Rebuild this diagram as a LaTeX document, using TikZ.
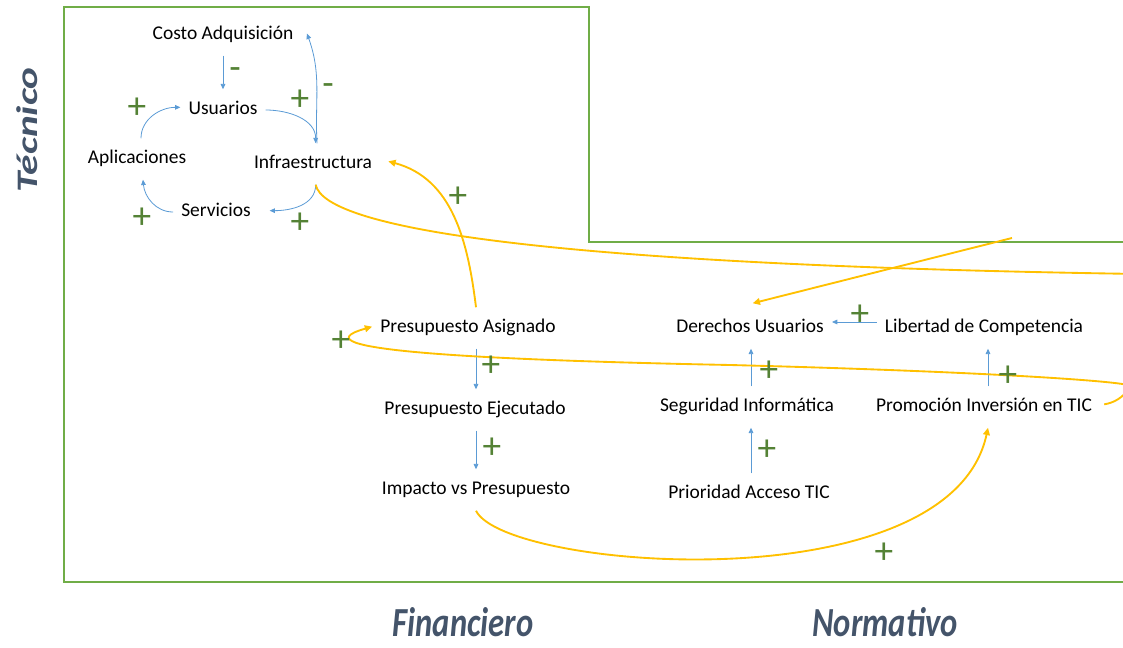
\documentclass[tikz,border=0pt]{standalone}
\usepackage{fontspec}
\setmainfont{Carlito}
\usetikzlibrary{positioning,arrows.meta}
\definecolor{linkblue}{HTML}{5B9BD5}
\definecolor{flowyellow}{HTML}{FFC000}
\definecolor{framegreen}{HTML}{70AD47}
\definecolor{signgreen}{HTML}{548235}
\definecolor{axisgray}{HTML}{44546A}
\tikzset {
    style var/.style={
        font=\fontsize{14.6}{17}\selectfont,
        text=black,
        inner xsep=6pt,
        inner ysep=8.6pt,
        text height=10pt,
        text depth=3.5pt,
        align=center,
    },
    style sign/.style={
        font=\fontsize{28}{28}\selectfont,
        text=signgreen,
        inner sep=0pt,
    },
    style axis/.style={
        font=\fontsize{31}{31}\selectfont\bfseries\itshape,
        text=axisgray,
        inner sep=0pt,
    },
    style link/.style={
        draw=linkblue,
        line width=0.6pt,
        -{Triangle[length=4pt,width=3.5pt]},
    },
    style flow/.style={
        draw=flowyellow,
        line width=1.4pt,
        -{Triangle[length=5.5pt,width=5pt]},
    },
    style frame/.style={
        draw=framegreen,
        line width=1.5pt,
    },
}

\begin{document}
\begin{tikzpicture}[x=0.75pt, y=0.75pt]
\useasboundingbox (0,0) rectangle (1123,-648);
\clip (0,0) rectangle (1123,-648);

% regions
\draw[style frame] (64,-7) -- (589,-7) -- (589,-242) -- (1140,-242) -- (1140,-582) -- (64,-582) -- cycle;
\node[style axis, rotate=90] (tecnico) at (27,-130) {\scalebox{1}[0.72]{Técnico}};
\node[style axis] (financiero) at (463,-622) {\scalebox{0.79}[1]{Financiero}};
\node[style axis] (normativo) at (885,-622) {\scalebox{0.79}[1]{Normativo}};

% variables
\node[style var] (costo) at (223,-35) {Costo Adquisición};
\node[style var] (usuarios) at (223,-110) {Usuarios};
\node[style var] (aplicaciones) at (137,-159) {Aplicaciones};
\node[style var] (infra) at (313,-164) {Infraestructura};
\node[style var] (servicios) at (216,-212) {Servicios};
\node[style var] (pasig) at (468,-328) {Presupuesto Asignado};
\node[style var] (pejec) at (475,-410) {Presupuesto Ejecutado};
\node[style var] (impacto) at (476,-490) {Impacto vs Presupuesto};
\node[style var] (derechos) at (750,-328) {Derechos Usuarios};
\node[style var] (libertad) at (984,-328) {Libertad de Competencia};
\node[style var] (seguridad) at (747,-407) {Seguridad Informática};
\node[style var] (promocion) at (984,-407) {Promoción Inversión en TIC};
\node[style var] (prioridad) at (749,-494) {Prioridad Acceso TIC};

% loose ends leaving the picture
\coordinate (infraOut) at (1140,-274);
\coordinate (derIn) at (1012,-238);
\coordinate (promOut) at (1130,-386);
\coordinate (promMid) at (730,-365);

% blue links
\draw[style link] (costo) -- (usuarios);
\draw[style link] (usuarios.east) to[out=0,in=90] ([xshift=2pt]infra.north);
\draw[style link] ([xshift=3pt]infra.north) to[out=93,in=-70] ([xshift=4pt,yshift=1pt]costo.east);
\draw[style link] ([xshift=2pt]infra.south) to[out=-90,in=0] ([xshift=8pt,yshift=1pt]servicios.east);
\draw[style link] (servicios.west) to[out=180,in=-85] ([xshift=4.5pt]aplicaciones.south);
\draw[style link] ([xshift=3pt]aplicaciones.north) to[out=90,in=180] ([yshift=2pt]usuarios.west);
\draw[style link] ([xshift=6pt]pasig.south) -- ([xshift=0.75pt]pejec.north);
\draw[style link] ([xshift=0.75pt]pejec.south) -- (impacto.north);
\draw[style link] ([yshift=4.5pt]libertad.west) -- ([yshift=4.5pt]derechos.east);
\draw[style link] ([xshift=3pt]seguridad.north) -- ([xshift=0.75pt]derechos.south);
\draw[style link] ([xshift=3pt]promocion.north) -- ([xshift=3pt]libertad.south);
\draw[style link] ([xshift=1.5pt]prioridad.north) -- ([xshift=3pt]seguridad.south);

% yellow links
\draw[style flow] ([xshift=6pt]pasig.north) to[out=97,in=-15] ([xshift=6pt,yshift=2pt]infra.east);
\draw[style flow] ([xshift=2pt]infra.south) .. controls (325,-230) and (560,-265) .. (infraOut);
\draw[style flow] (derIn) -- ([xshift=2pt,yshift=3pt]derechos.north);
\draw[style flow] ([xshift=3pt,yshift=2pt]promocion.east) .. controls (1113,-403) and (1124,-398) .. (promOut)
    .. controls (1130,-382) and (1000,-372) .. (promMid)
    .. controls (480,-360) and (290,-350) .. ([yshift=1pt]pasig.west);
\draw[style flow] (impacto.south) .. controls (505,-570) and (950,-605) .. ([xshift=3pt]promocion.south);

% polarities
\node[style sign] (mCostoUsu) at (235,-74) {-};
\node[style sign] (mInfraCosto) at (328,-90) {-};
\node[style sign] (pUsuInfra) at (300,-100) {+};
\node[style sign] (pAplUsu) at (137,-108) {+};
\node[style sign] (pServApl) at (142,-218) {+};
\node[style sign] (pInfraServ) at (300,-223) {+};
\node[style sign] (pAsigInfra) at (458,-197) {+};
\node[style sign] (pPromAsig) at (341,-341) {+};
\node[style sign] (pAsigEjec) at (491,-366) {+};
\node[style sign] (pEjecImp) at (492,-448) {+};
\node[style sign] (pLibDer) at (860,-315) {+};
\node[style sign] (pSegDer) at (769,-371) {+};
\node[style sign] (pPromLib) at (1008,-376) {+};
\node[style sign] (pPriSeg) at (767,-450) {+};
\node[style sign] (pImpProm) at (884,-553) {+};
\end{tikzpicture}
\end{document}
